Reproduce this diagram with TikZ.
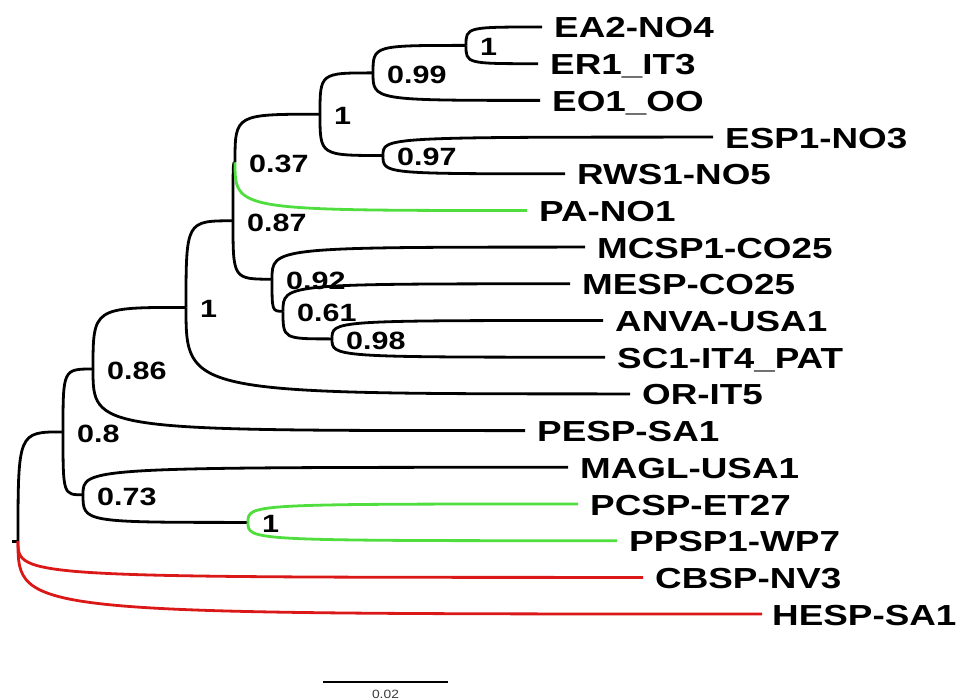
\documentclass[tikz,border=0pt]{standalone}
\usepackage{fontspec}
\setsansfont{Liberation Sans}
\usepackage{graphicx}
\usetikzlibrary{positioning, calc}
\definecolor{cInk}  {RGB}{0,0,0}
\definecolor{cGrn}  {RGB}{80,222,62}
\definecolor{cRed}  {RGB}{218,24,24}
\definecolor{cScale}{RGB}{60,60,60}
\newcommand{\taxw}[1]{\scalebox{1.27}[1]{#1}}
\newcommand{\suppw}[1]{\scalebox{1.22}[1]{#1}}

\begin{document}
\begin{tikzpicture}[
  x=1pt, y=-1pt,
  font=\sffamily,
  % ── branches (curved phylogram)
  br/.style ={draw=cInk, line width=2.8pt},
  brG/.style={br, draw=cGrn},
  brR/.style={br, draw=cRed},
  % ── tip labels
  taxon/.style={
    anchor=base west, inner sep=0pt, xshift=12pt, yshift=-11pt,
    font=\fontsize{29}{29}\selectfont\sffamily\bfseries
  },
  % ── support values
  supp/.style={
    anchor=base west, inner sep=0pt, xshift=14pt, yshift=-10.5pt,
    font=\fontsize{25}{25}\selectfont\sffamily\bfseries
  },
  % ── scale bar
  sbar/.style={draw=cInk, line width=1.2pt},
  sblbl/.style={font=\fontsize{12}{12}\selectfont\sffamily, text=cScale, inner sep=0pt},
]

\useasboundingbox[fill=white] (0,0) rectangle (960,700);

%% ═══════════════════════════════════════════════════════════════════════════
%%  TIPS  (x = branch end, y = row)
%% ═══════════════════════════════════════════════════════════════════════════

\coordinate (tEA)   at (542, 27.0);
\coordinate (tER)   at (538, 63.7);
\coordinate (tEO)   at (540,100.4);
\coordinate (tESP)  at (713,137.1);
\coordinate (tRWS)  at (565,173.8);
\coordinate (tPA)   at (527,210.5);
\coordinate (tMCSP) at (585,247.1);
\coordinate (tMESP) at (570,283.8);
\coordinate (tANVA) at (603,320.5);
\coordinate (tSC)   at (605,357.2);
\coordinate (tOR)   at (630,393.9);
\coordinate (tPESP) at (525,430.6);
\coordinate (tMAGL) at (568,467.3);
\coordinate (tPCSP) at (578,504.0);
\coordinate (tPPSP) at (617,540.7);
\coordinate (tCBSP) at (643,577.4);
\coordinate (tHESP) at (762,614.0);

%% ═══════════════════════════════════════════════════════════════════════════
%%  INTERNAL NODES
%% ═══════════════════════════════════════════════════════════════════════════

\coordinate (nEA)  at (466, 45.4);
\coordinate (n099) at (373, 72.9);
\coordinate (n097) at (383,155.5);
\coordinate (nE)   at (320,114.2);
\coordinate (n037) at (235,162.4);
\coordinate (n098) at (332,338.9);
\coordinate (n061) at (283,311.3);
\coordinate (n092) at (272,279.2);
\coordinate (n087) at (233,220.8);
\coordinate (nM)   at (186,307.4);
\coordinate (n086) at ( 93,369.0);
\coordinate (nP)   at (248,522.4);
\coordinate (n073) at ( 83,494.8);
\coordinate (n080) at ( 63,431.9);
\coordinate (root) at ( 18,541.1);
\coordinate (stem) at ( 12,541.1);

% Tip labels
\node[taxon] (lEA)   at (tEA)   {\taxw{EA2-NO4}};
\node[taxon] (lER)   at (tER)   {\taxw{ER1\_IT3}};
\node[taxon] (lEO)   at (tEO)   {\taxw{EO1\_OO}};
\node[taxon] (lESP)  at (tESP)  {\taxw{ESP1-NO3}};
\node[taxon] (lRWS)  at (tRWS)  {\taxw{RWS1-NO5}};
\node[taxon] (lPA)   at (tPA)   {\taxw{PA-NO1}};
\node[taxon] (lMCSP) at (tMCSP) {\taxw{MCSP1-CO25}};
\node[taxon] (lMESP) at (tMESP) {\taxw{MESP-CO25}};
\node[taxon] (lANVA) at (tANVA) {\taxw{ANVA-USA1}};
\node[taxon] (lSC)   at (tSC)   {\taxw{SC1-IT4\_PAT}};
\node[taxon] (lOR)   at (tOR)   {\taxw{OR-IT5}};
\node[taxon] (lPESP) at (tPESP) {\taxw{PESP-SA1}};
\node[taxon] (lMAGL) at (tMAGL) {\taxw{MAGL-USA1}};
\node[taxon] (lPCSP) at (tPCSP) {\taxw{PCSP-ET27}};
\node[taxon] (lPPSP) at (tPPSP) {\taxw{PPSP1-WP7}};
\node[taxon] (lCBSP) at (tCBSP) {\taxw{CBSP-NV3}};
\node[taxon, xshift=-2pt] (lHESP) at (tHESP) {\taxw{HESP-SA1}};

% Support values
\node[supp] (sEA)  at (nEA)  {\suppw{1}};
\node[supp] (s099) at (n099) {\suppw{0.99}};
\node[supp] (sE)   at (nE)   {\suppw{1}};
\node[supp] (s097) at (n097) {\suppw{0.97}};
\node[supp] (s037) at (n037) {\suppw{0.37}};
\node[supp] (s087) at (n087) {\suppw{0.87}};
\node[supp] (s092) at (n092) {\suppw{0.92}};
\node[supp] (s061) at (n061) {\suppw{0.61}};
\node[supp] (s098) at (n098) {\suppw{0.98}};
\node[supp] (sM)   at (nM)   {\suppw{1}};
\node[supp] (s086) at (n086) {\suppw{0.86}};
\node[supp] (s080) at (n080) {\suppw{0.8}};
\node[supp] (s073) at (n073) {\suppw{0.73}};
\node[supp] (sP)   at (nP)   {\suppw{1}};

%% ═══════════════════════════════════════════════════════════════════════════
%%  BRANCHES  (vertical out of the parent, bending into the child's row)
%% ═══════════════════════════════════════════════════════════════════════════

% root
\draw[br]  (stem) -- (root);
\draw[br]  (root) .. controls (root |- n080)  .. (n080);
\draw[brR] (root) .. controls (root |- tCBSP) .. (tCBSP);
\draw[brR] (root) .. controls (root |- tHESP) .. (tHESP);

% 0.8 / 0.86 / 1
\draw[br] (n080) .. controls (n080 |- n086) .. (n086);
\draw[br] (n080) .. controls (n080 |- n073) .. (n073);
\draw[br] (n086) .. controls (n086 |- nM)    .. (nM);
\draw[br] (n086) .. controls (n086 |- tPESP) .. (tPESP);
\draw[br] (nM)   .. controls (nM |- n087)    .. (n087);
\draw[br] (nM)   .. controls (nM |- tOR)     .. (tOR);

% upper clade
\draw[br]  (n087) .. controls (n087 |- n037) .. (n037);
\draw[br]  (n087) .. controls (n087 |- n092) .. (n092);
\draw[br]  (n037) .. controls (n037 |- nE)   .. (nE);
\draw[brG] (n037) .. controls (n037 |- tPA)  .. (tPA);
\draw[br]  (nE)   .. controls (nE |- n099)   .. (n099);
\draw[br]  (nE)   .. controls (nE |- n097)   .. (n097);
\draw[br]  (n099) .. controls (n099 |- nEA)  .. (nEA);
\draw[br]  (n099) .. controls (n099 |- tEO)  .. (tEO);
\draw[br]  (nEA)  .. controls (nEA |- tEA)   .. (tEA);
\draw[br]  (nEA)  .. controls (nEA |- tER)   .. (tER);
\draw[br]  (n097) .. controls (n097 |- tESP) .. (tESP);
\draw[br]  (n097) .. controls (n097 |- tRWS) .. (tRWS);

% middle clade
\draw[br] (n092) .. controls (n092 |- tMCSP) .. (tMCSP);
\draw[br] (n092) .. controls (n092 |- n061)  .. (n061);
\draw[br] (n061) .. controls (n061 |- tMESP) .. (tMESP);
\draw[br] (n061) .. controls (n061 |- n098)  .. (n098);
\draw[br] (n098) .. controls (n098 |- tANVA) .. (tANVA);
\draw[br] (n098) .. controls (n098 |- tSC)   .. (tSC);

% lower clade
\draw[br]  (n073) .. controls (n073 |- tMAGL) .. (tMAGL);
\draw[br]  (n073) .. controls (n073 |- nP)    .. (nP);
\draw[brG] (nP)   .. controls (nP |- tPCSP)   .. (tPCSP);
\draw[brG] (nP)   .. controls (nP |- tPPSP)   .. (tPPSP);

%% ═══════════════════════════════════════════════════════════════════════════
%%  SCALE BAR
%% ═══════════════════════════════════════════════════════════════════════════

\coordinate (sbL) at (323,682);
\coordinate (sbR) at (448,682);
\draw[sbar] (sbL) -- (sbR);
\node[sblbl, anchor=base] (sbT) at ($(sbL)!0.5!(sbR) + (0,16.5)$) {\scalebox{1.15}[1]{0.02}};

\end{tikzpicture}
\end{document}
